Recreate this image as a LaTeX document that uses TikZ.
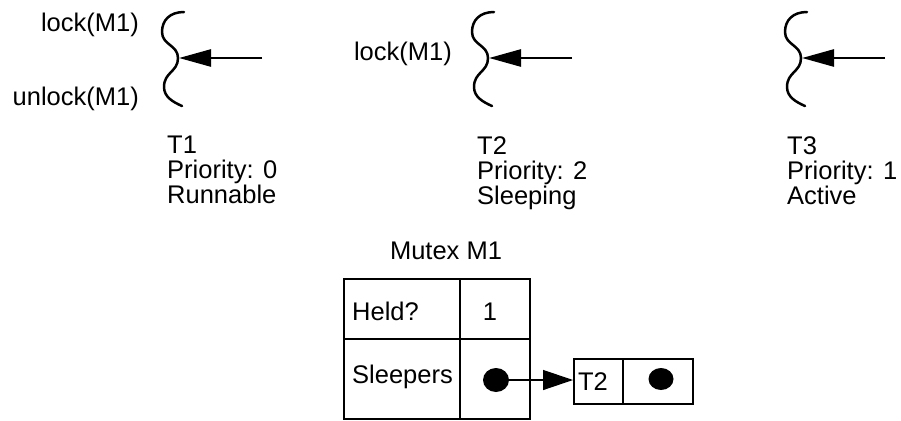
\documentclass[tikz,border=0pt]{standalone}
\usepackage{fontspec}
\setmainfont{Liberation Sans}
\usetikzlibrary{arrows.meta,shapes.geometric}
\tikzset{
  txt/.style={inner sep=0pt, font=\fontsize{25.5}{25}\selectfont},
  lbl/.style={txt, align=left, anchor=north west},
  wave/.style={line width=2.5pt, line cap=round, line join=round},
  tharrow/.style={line width=2.6pt, -{Triangle[length=32pt,width=17pt]}},
  cell/.style={draw, line width=2pt, inner sep=0pt, minimum width=#1},
  dotmark/.style={fill=black, ellipse, inner sep=0pt, minimum width=26pt, minimum height=24pt},
  ptr/.style={line width=1.3pt, -{Triangle[length=30pt,width=20pt]}},
}
\begin{document}
\begin{tikzpicture}[x=1pt,y=-1pt]
\useasboundingbox (0,0) rectangle (901,420);
% threads: wavy lines
\foreach \dx/\n in {0/1,310/2,623/3}{
  \draw[wave] (184+\dx,12) .. controls (170+\dx,12) and (162+\dx,20) .. (162+\dx,32)
                           .. controls (162+\dx,45) and (178+\dx,45) .. (178+\dx,58)
                           .. controls (178+\dx,72) and (164+\dx,72) .. (164+\dx,87)
                           .. controls (164+\dx,97) and (173+\dx,102) .. (182+\dx,106);
  \coordinate (apex\n) at (179+\dx,58);
  \coordinate (src\n) at (262+\dx,58);
  \draw[tharrow] (src\n) -- (apex\n);
}
% code labels
\node[txt, anchor=base east] (lk1) at (139,32) {lock(M1)};
\node[txt, anchor=base east] (ulk1) at (139,105) {unlock(M1)};
\node[txt, anchor=base east] (lk2) at (452,60) {lock(M1)};
% thread info
\node[lbl] (info1) at (167,136) {T1\\Priority: 0\\Runnable};
\node[lbl] (info2) at (477,136) {T2\\Priority: 2\\Sleeping};
\node[lbl] (info3) at (787,136) {T3\\Priority: 1\\Active};
% mutex
\node[txt, anchor=base] (mtitle) at (446,259) {Mutex M1};
\node[cell=116pt, minimum height=60pt, anchor=north west] (heldk) at (343,278) {};
\node[cell=70pt, minimum height=60pt, anchor=north west] (heldv) at (459,278) {};
\node[cell=116pt, minimum height=80pt, anchor=north west] (sleepk) at (343,338) {};
\node[cell=70pt, minimum height=80pt, anchor=north west] (sleepv) at (459,338) {};
\node[txt, anchor=base west] (heldt) at (352,320) {Held?};
\node[txt, anchor=base] (onet) at (490,320) {1};
\node[txt, anchor=base west] (sleept) at (352,383) {Sleepers};
\node[dotmark] (dot1) at (496,380) {};
% sleeper list
\node[cell=49pt, minimum height=45pt, anchor=north west] (t2cell) at (573,358) {};
\node[cell=70pt, minimum height=45pt, anchor=north west] (nextcell) at (622,358) {};
\node[txt, anchor=base] (t2t) at (593,390) {T2};
\node[dotmark, minimum width=25pt, minimum height=22pt] (dot2) at (661,379) {};
\draw[ptr] (dot1.east) -- (dot1.east -| t2cell.west);
\end{tikzpicture}
\end{document}
